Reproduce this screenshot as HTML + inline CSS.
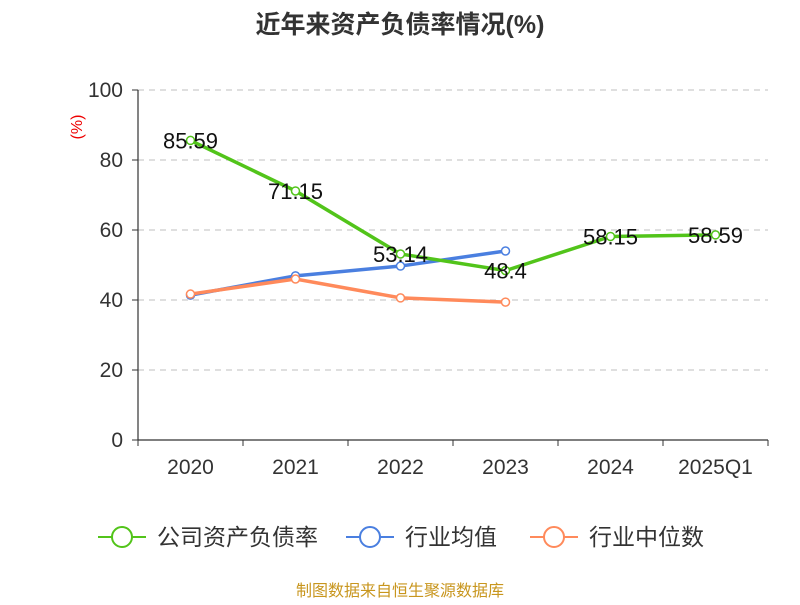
<!DOCTYPE html>
<html><head><meta charset="utf-8"><style>
body{margin:0;background:#fff;font-family:"Liberation Sans","Noto Sans CJK SC",sans-serif;}
</style></head><body>
<svg id="c" width="800" height="600" xmlns="http://www.w3.org/2000/svg"></svg>
<script>
const categories=["2020","2021","2022","2023","2024","2025Q1"];
const companyVals=[85.59,71.15,53.14,48.4,58.15,58.59];
const industryAvg=[41.4,46.9,49.7,54.0];
const industryMed=[41.7,46.0,40.6,39.4];
const yTicks=[0,20,40,60,80,100];
const svg=document.getElementById('c');
const NS="http://www.w3.org/2000/svg";
function el(t,a,txt){const e=document.createElementNS(NS,t);for(const k in a)e.setAttribute(k,a[k]);if(txt!==undefined)e.textContent=txt;svg.appendChild(e);return e;}
const x0=138,x1=768,y0=440,y1=90;
const bw=(x1-x0)/categories.length;
const xs=i=>x0+bw*(i+0.5);
const ys=v=>y0-(v/100)*(y0-y1);
const FONT='"Liberation Sans","Noto Sans CJK SC",sans-serif';
let t=el('text',{x:400,y:33,'text-anchor':'middle','font-size':25,'font-weight':'bold',fill:'#333','font-family':FONT},'近年来资产负债率情况(%)');

t=el('text',{x:82,y:127,'text-anchor':'middle','font-size':16,fill:'#e00','font-family':FONT,transform:'rotate(-90 82 127)'},'(%)');

yTicks.forEach(v=>{
  const y=ys(v);
  if(v>0){const g=el('line',{x1:x0,x2:x1,y1:y,y2:y,stroke:'#ccc','stroke-dasharray':'6,5','stroke-width':1.2});}
  el('line',{x1:x0-6,x2:x0,y1:y,y2:y,stroke:'#333'});
  const l=el('text',{x:x0-15,y:y+7,'text-anchor':'end','font-size':21,fill:'#333','font-family':FONT},String(v));
  
});
el('line',{x1:x0,x2:x0,y1:y1,y2:y0,stroke:'#333','stroke-width':1.2});
el('line',{x1:x0,x2:x1,y1:y0,y2:y0,stroke:'#333','stroke-width':1.2});
for(let i=0;i<=categories.length;i++)el('line',{x1:x0+bw*i,x2:x0+bw*i,y1:y0,y2:y0+6,stroke:'#333'});
categories.forEach((c,i)=>{const l=el('text',{x:xs(i),y:474,'text-anchor':'middle','font-size':21,fill:'#333','font-family':FONT},c);});
function series(vals,color,name){
  const p=el('polyline',{points:vals.map((v,i)=>xs(i)+','+ys(v)).join(' '),fill:'none',stroke:color,'stroke-width':3.5});
  
  vals.forEach((v,i)=>{const c=el('circle',{cx:xs(i),cy:ys(v),r:4,fill:'#fff',stroke:color,'stroke-width':1.5});});
}
series(industryAvg,'#4a7fe0','industry-average');
series(industryMed,'#ff8a5b','industry-median');
series(companyVals,'#52c41a','company');
companyVals.forEach((v,i)=>{const l=el('text',{x:xs(i),y:ys(v)+8,'text-anchor':'middle','font-size':22,fill:'#111','font-family':FONT},String(v));});
const leg=[['公司资产负债率','#52c41a',98],['行业均值','#4a7fe0',346],['行业中位数','#ff8a5b',530]];
leg.forEach(([n,c,x])=>{
  el('line',{x1:x,x2:x+48,y1:537,y2:537,stroke:c,'stroke-width':2});
  el('circle',{cx:x+24,cy:537,r:10,fill:'#fff',stroke:c,'stroke-width':2});
  const l=el('text',{x:x+59,y:545,'font-size':23,fill:'#333','font-family':FONT},n);
  
});
t=el('text',{x:400,y:596,'text-anchor':'middle','font-size':16,fill:'#c8961e','font-family':FONT},'制图数据来自恒生聚源数据库');

</script>
</body></html>
